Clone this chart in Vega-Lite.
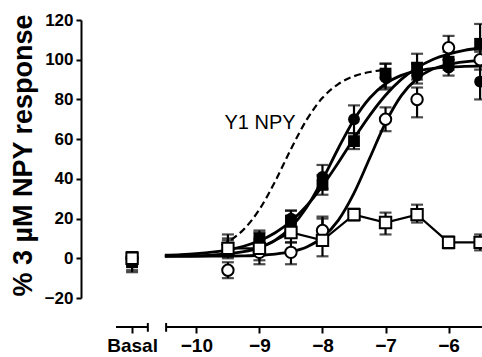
{
  "$schema": "https://vega.github.io/schema/vega-lite/v6.json",
  "width": 401,
  "height": 278,
  "autosize": {"type": "none"},
  "padding": {"left": 81, "top": 20, "right": 0, "bottom": 59},
  "background": "white",
  "config": {
    "view": {"stroke": null},
    "font": "Liberation Sans",
    "axis": {"labelOverlap": false, "labelFlush": false, "grid": false, "labelBound": false},
    "axisY": {"tickCount": 8, "labelOverlap": false}
  },
  "datasets": {
    "axisSeg": [
      {"x": -11.275, "x2": -10.77},
      {"x": -10.48, "x2": -5.3}
    ],
    "caps": [
      {"x": -10.77, "y": -32.6, "y2": -37.0},
      {"x": -10.48, "y": -32.6, "y2": -37.0}
    ],
    "curves": [
      {"series": "fs", "x": -10.5, "y": 1.53}, {"series": "fs", "x": -10.25, "y": 1.84}, {"series": "fs", "x": -10, "y": 2.32}, {"series": "fs", "x": -9.75, "y": 3.07}, {"series": "fs", "x": -9.5, "y": 4.25}, {"series": "fs", "x": -9.25, "y": 6.07}, {"series": "fs", "x": -9, "y": 8.81}, {"series": "fs", "x": -8.75, "y": 12.87}, {"series": "fs", "x": -8.5, "y": 18.66}, {"series": "fs", "x": -8.25, "y": 26.5}, {"series": "fs", "x": -8, "y": 36.5}, {"series": "fs", "x": -7.75, "y": 48.1}, {"series": "fs", "x": -7.5, "y": 60.4}, {"series": "fs", "x": -7.25, "y": 72.0}, {"series": "fs", "x": -7, "y": 82.1}, {"series": "fs", "x": -6.75, "y": 90.1}, {"series": "fs", "x": -6.5, "y": 95.9}, {"series": "fs", "x": -6.25, "y": 100.1}, {"series": "fs", "x": -6, "y": 102.8}, {"series": "fs", "x": -5.75, "y": 104.7}, {"series": "fs", "x": -5.5, "y": 105.9}, {"series": "fs", "x": -5.3, "y": 106.6},
      {"series": "fc", "x": -10.5, "y": 1.09}, {"series": "fc", "x": -10.25, "y": 1.17}, {"series": "fc", "x": -10, "y": 1.32}, {"series": "fc", "x": -9.75, "y": 1.62}, {"series": "fc", "x": -9.5, "y": 2.2}, {"series": "fc", "x": -9.25, "y": 3.3}, {"series": "fc", "x": -9, "y": 5.4}, {"series": "fc", "x": -8.75, "y": 9.1}, {"series": "fc", "x": -8.5, "y": 15.6}, {"series": "fc", "x": -8.25, "y": 25.7}, {"series": "fc", "x": -8, "y": 39.6}, {"series": "fc", "x": -7.75, "y": 55.3}, {"series": "fc", "x": -7.5, "y": 69.8}, {"series": "fc", "x": -7.25, "y": 80.7}, {"series": "fc", "x": -7, "y": 87.9}, {"series": "fc", "x": -6.75, "y": 92.1}, {"series": "fc", "x": -6.5, "y": 94.4}, {"series": "fc", "x": -6.25, "y": 95.6}, {"series": "fc", "x": -6, "y": 96.3}, {"series": "fc", "x": -5.75, "y": 96.6}, {"series": "fc", "x": -5.5, "y": 96.8}, {"series": "fc", "x": -5.3, "y": 96.9},
      {"series": "oc", "x": -10.5, "y": 1.0}, {"series": "oc", "x": -10.25, "y": 1.01}, {"series": "oc", "x": -10, "y": 1.03}, {"series": "oc", "x": -9.75, "y": 1.06}, {"series": "oc", "x": -9.5, "y": 1.12}, {"series": "oc", "x": -9.25, "y": 1.25}, {"series": "oc", "x": -9, "y": 1.52}, {"series": "oc", "x": -8.75, "y": 2.1}, {"series": "oc", "x": -8.5, "y": 3.3}, {"series": "oc", "x": -8.25, "y": 5.7}, {"series": "oc", "x": -8, "y": 10.5}, {"series": "oc", "x": -7.75, "y": 19.1}, {"series": "oc", "x": -7.5, "y": 32.8}, {"series": "oc", "x": -7.25, "y": 50.5}, {"series": "oc", "x": -7, "y": 68.2}, {"series": "oc", "x": -6.75, "y": 81.9}, {"series": "oc", "x": -6.5, "y": 90.5}, {"series": "oc", "x": -6.25, "y": 95.3}, {"series": "oc", "x": -6, "y": 97.7}, {"series": "oc", "x": -5.75, "y": 98.9}, {"series": "oc", "x": -5.5, "y": 99.5}, {"series": "oc", "x": -5.3, "y": 99.7}
    ],
    "dashed": [
      {"x": -9.6, "y": 6.6}, {"x": -9.5, "y": 8.3}, {"x": -9.25, "y": 14.5}, {"x": -9, "y": 24.6}, {"x": -8.75, "y": 38.8}, {"x": -8.5, "y": 55.0}, {"x": -8.25, "y": 69.8}, {"x": -8, "y": 80.8}, {"x": -7.75, "y": 87.7}, {"x": -7.5, "y": 91.7}, {"x": -7.25, "y": 93.8}, {"x": -7, "y": 94.9}
    ],
    "points": [
      {"series": "fc", "x": -11.02, "y": 0, "lo": -4, "hi": 3},
      {"series": "fc", "x": -9.5, "y": 4, "lo": 0, "hi": 10},
      {"series": "fc", "x": -9, "y": 10, "lo": 7, "hi": 13},
      {"series": "fc", "x": -8.5, "y": 20, "lo": 16, "hi": 24},
      {"series": "fc", "x": -8, "y": 41, "lo": 35, "hi": 47},
      {"series": "fc", "x": -7.5, "y": 70, "lo": 63, "hi": 77},
      {"series": "fc", "x": -7, "y": 91, "lo": 85, "hi": 98},
      {"series": "fc", "x": -6.5, "y": 92, "lo": 88, "hi": 98},
      {"series": "fc", "x": -6, "y": 96, "lo": 92, "hi": 100},
      {"series": "fc", "x": -5.5, "y": 89, "lo": 80, "hi": 99},
      {"series": "fs", "x": -11.02, "y": -2, "lo": -7, "hi": 2},
      {"series": "fs", "x": -9.5, "y": 5, "lo": 1, "hi": 12},
      {"series": "fs", "x": -9, "y": 10, "lo": 7, "hi": 14},
      {"series": "fs", "x": -8.5, "y": 19, "lo": 15, "hi": 24},
      {"series": "fs", "x": -8, "y": 37, "lo": 32, "hi": 42},
      {"series": "fs", "x": -7.5, "y": 59, "lo": 55, "hi": 63},
      {"series": "fs", "x": -7, "y": 93, "lo": 86, "hi": 98},
      {"series": "fs", "x": -6.5, "y": 96, "lo": 90, "hi": 103},
      {"series": "fs", "x": -6, "y": 99, "lo": 95, "hi": 104},
      {"series": "fs", "x": -5.5, "y": 108, "lo": 104, "hi": 118},
      {"series": "oc", "x": -11.02, "y": 0, "lo": -3, "hi": 3},
      {"series": "oc", "x": -9.5, "y": -6, "lo": -10, "hi": -2},
      {"series": "oc", "x": -9, "y": 3, "lo": -1, "hi": 7},
      {"series": "oc", "x": -8.5, "y": 3, "lo": -3, "hi": 8},
      {"series": "oc", "x": -8, "y": 14, "lo": 7, "hi": 21},
      {"series": "oc", "x": -7, "y": 70, "lo": 64, "hi": 76},
      {"series": "oc", "x": -6.5, "y": 80, "lo": 71, "hi": 86},
      {"series": "oc", "x": -6, "y": 106, "lo": 100, "hi": 112},
      {"series": "oc", "x": -5.5, "y": 100, "lo": 95, "hi": 105},
      {"series": "os", "x": -11.02, "y": 0, "lo": -6, "hi": 3},
      {"series": "os", "x": -9.5, "y": 5, "lo": 1, "hi": 9},
      {"series": "os", "x": -9, "y": 5, "lo": -3, "hi": 9},
      {"series": "os", "x": -8.5, "y": 13, "lo": 8, "hi": 18},
      {"series": "os", "x": -8, "y": 9, "lo": 1, "hi": 20},
      {"series": "os", "x": -7.5, "y": 22, "lo": 19, "hi": 25},
      {"series": "os", "x": -7, "y": 18, "lo": 12, "hi": 23},
      {"series": "os", "x": -6.5, "y": 22, "lo": 18, "hi": 27},
      {"series": "os", "x": -6, "y": 8, "lo": 5, "hi": 11},
      {"series": "os", "x": -5.5, "y": 8, "lo": 4, "hi": 12}
    ],
    "labels": [
      {"x": -8.99, "y": 68, "text": "Y1 NPY"}
    ]
  },
  "layer": [
    {
      "data": {"name": "points"},
      "mark": {"type": "point", "opacity": 0},
      "encoding": {
        "x": {
          "field": "x", "type": "quantitative", "title": null,
          "scale": {"domain": [-11.83, -5.47], "nice": false, "zero": false},
          "axis": {
            "values": [-11.02, -10, -9, -8, -7, -6],
            "labelExpr": "datum.value < -10.5 ? 'Basal' : '\u2212' + format(abs(datum.value), 'd')",
            "domain": false, "grid": false, "offset": 29, "title": null,
            "tickSize": 6, "tickWidth": 2, "tickColor": "black",
            "labelFont": "Liberation Sans", "labelFontSize": 19, "labelFontWeight": "bold",
            "labelColor": "black", "labelPadding": 3, "labelOverlap": false, "labelFlush": false
          }
        },
        "y": {
          "field": "y", "type": "quantitative", "title": "% 3 \u00b5M NPY response",
          "scale": {"domain": [-20, 120], "nice": false, "zero": false},
          "axis": {
            "values": [-20, 0, 20, 40, 60, 80, 100, 120],
            "labelExpr": "datum.value < 0 ? '\u2212' + abs(datum.value) : '' + datum.value",
            "grid": false, "domain": true, "domainColor": "black", "domainWidth": 2,
            "tickSize": 5, "tickWidth": 2, "tickColor": "black",
            "labelFont": "Liberation Sans", "labelFontSize": 17, "labelFontWeight": "bold",
            "labelColor": "black", "labelPadding": 3, "labelOverlap": false, "labelFlush": false,
            "title": "% 3 \u00b5M NPY response",
            "titleFont": "Liberation Sans", "titleFontSize": 27, "titleFontWeight": "bold",
            "titleColor": "black", "titleX": -58, "titleY": 135, "titleBaseline": "middle", "titleAngle": -90
          }
        }
      }
    },
    {
      "data": {"name": "axisSeg"},
      "mark": {"type": "rule", "color": "black", "strokeWidth": 2},
      "encoding": {
        "x": {"field": "x", "type": "quantitative", "title": null, "scale": {"domain": [-11.83, -5.47], "nice": false, "zero": false}},
        "x2": {"field": "x2"},
        "y": {"datum": -34.6, "type": "quantitative", "title": "% 3 \u00b5M NPY response", "scale": {"domain": [-20, 120], "nice": false, "zero": false}}
      }
    },
    {
      "data": {"name": "caps"},
      "mark": {"type": "rule", "color": "black", "strokeWidth": 2},
      "encoding": {
        "x": {"field": "x", "type": "quantitative", "title": null, "scale": {"domain": [-11.83, -5.47], "nice": false, "zero": false}},
        "y": {"field": "y", "type": "quantitative", "title": "% 3 \u00b5M NPY response", "scale": {"domain": [-20, 120], "nice": false, "zero": false}},
        "y2": {"field": "y2"}
      }
    },
    {
      "data": {"name": "curves"},
      "mark": {"type": "line", "color": "black", "strokeWidth": 2.8, "interpolate": "monotone"},
      "encoding": {
        "x": {"field": "x", "type": "quantitative", "title": null, "scale": {"domain": [-11.83, -5.47], "nice": false, "zero": false}},
        "y": {"field": "y", "type": "quantitative", "title": "% 3 \u00b5M NPY response", "scale": {"domain": [-20, 120], "nice": false, "zero": false}},
        "detail": {"field": "series"}
      }
    },
    {
      "data": {"name": "dashed"},
      "mark": {"type": "line", "color": "black", "strokeWidth": 2.2, "strokeDash": [7, 4], "interpolate": "monotone"},
      "encoding": {
        "x": {"field": "x", "type": "quantitative", "title": null, "scale": {"domain": [-11.83, -5.47], "nice": false, "zero": false}},
        "y": {"field": "y", "type": "quantitative", "title": "% 3 \u00b5M NPY response", "scale": {"domain": [-20, 120], "nice": false, "zero": false}}
      }
    },
    {
      "data": {"name": "points"},
      "transform": [{"filter": "datum.series == 'os' && datum.x > -10.5"}],
      "mark": {"type": "line", "color": "black", "strokeWidth": 2.2},
      "encoding": {
        "x": {"field": "x", "type": "quantitative", "title": null, "scale": {"domain": [-11.83, -5.47], "nice": false, "zero": false}},
        "y": {"field": "y", "type": "quantitative", "title": "% 3 \u00b5M NPY response", "scale": {"domain": [-20, 120], "nice": false, "zero": false}}
      }
    },
    {
      "data": {"name": "points"},
      "mark": {"type": "errorbar", "ticks": true, "size": 12, "thickness": 2.2, "color": "black"},
      "encoding": {
        "x": {"field": "x", "type": "quantitative", "title": null, "scale": {"domain": [-11.83, -5.47], "nice": false, "zero": false}},
        "y": {"field": "lo", "type": "quantitative", "title": "% 3 \u00b5M NPY response", "scale": {"domain": [-20, 120], "nice": false, "zero": false}},
        "y2": {"field": "hi"},
        "detail": {"field": "series"}
      }
    },
    {
      "data": {"name": "points"},
      "transform": [{"filter": "datum.series == 'fc' || datum.series == 'fs'"}],
      "mark": {"type": "point", "filled": true, "color": "black", "opacity": 1},
      "encoding": {
        "x": {"field": "x", "type": "quantitative", "title": null, "scale": {"domain": [-11.83, -5.47], "nice": false, "zero": false}},
        "y": {"field": "y", "type": "quantitative", "title": "% 3 \u00b5M NPY response", "scale": {"domain": [-20, 120], "nice": false, "zero": false}},
        "shape": {"field": "series", "type": "nominal", "scale": {"domain": ["fc", "fs"], "range": ["circle", "square"]}, "legend": null},
        "size": {"value": 140}
      }
    },
    {
      "data": {"name": "points"},
      "transform": [{"filter": "datum.series == 'oc' || datum.series == 'os'"}],
      "mark": {"type": "point", "filled": true, "fill": "white", "stroke": "black", "strokeWidth": 2, "opacity": 1},
      "encoding": {
        "x": {"field": "x", "type": "quantitative", "title": null, "scale": {"domain": [-11.83, -5.47], "nice": false, "zero": false}},
        "y": {"field": "y", "type": "quantitative", "title": "% 3 \u00b5M NPY response", "scale": {"domain": [-20, 120], "nice": false, "zero": false}},
        "shape": {"field": "series", "type": "nominal", "scale": {"domain": ["oc", "os"], "range": ["circle", "square"]}, "legend": null},
        "size": {"value": 130}
      }
    },
    {
      "data": {"name": "labels"},
      "mark": {"type": "text", "font": "Liberation Sans", "fontSize": 20, "color": "black", "align": "center", "baseline": "middle"},
      "encoding": {
        "x": {"field": "x", "type": "quantitative", "title": null, "scale": {"domain": [-11.83, -5.47], "nice": false, "zero": false}},
        "y": {"field": "y", "type": "quantitative", "title": "% 3 \u00b5M NPY response", "scale": {"domain": [-20, 120], "nice": false, "zero": false}},
        "text": {"field": "text"}
      }
    }
  ]
}
